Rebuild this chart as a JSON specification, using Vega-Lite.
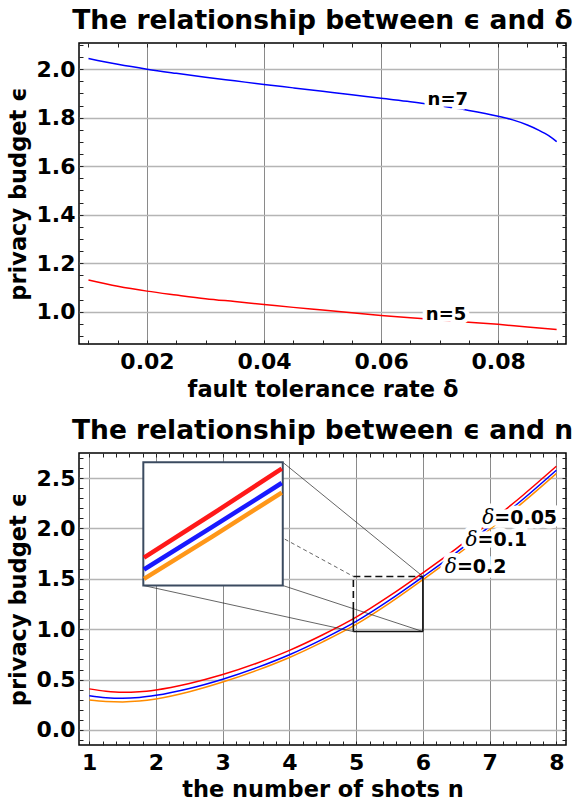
{
  "$schema": "https://vega.github.io/schema/vega-lite/v6.json",
  "padding": {"left": 6, "top": 7, "right": 2, "bottom": 2},
  "datasets": {
    "eps_delta": [
      {"delta": 0.010, "eps": 2.044, "n": "n=7"},
      {"delta": 0.015, "eps": 2.020, "n": "n=7"},
      {"delta": 0.020, "eps": 2.000, "n": "n=7"},
      {"delta": 0.025, "eps": 1.983, "n": "n=7"},
      {"delta": 0.030, "eps": 1.967, "n": "n=7"},
      {"delta": 0.035, "eps": 1.952, "n": "n=7"},
      {"delta": 0.040, "eps": 1.937, "n": "n=7"},
      {"delta": 0.045, "eps": 1.923, "n": "n=7"},
      {"delta": 0.050, "eps": 1.909, "n": "n=7"},
      {"delta": 0.055, "eps": 1.895, "n": "n=7"},
      {"delta": 0.060, "eps": 1.880, "n": "n=7"},
      {"delta": 0.065, "eps": 1.866, "n": "n=7"},
      {"delta": 0.070, "eps": 1.849, "n": "n=7"},
      {"delta": 0.075, "eps": 1.830, "n": "n=7"},
      {"delta": 0.080, "eps": 1.806, "n": "n=7"},
      {"delta": 0.0825, "eps": 1.791, "n": "n=7"},
      {"delta": 0.085, "eps": 1.770, "n": "n=7"},
      {"delta": 0.087, "eps": 1.748, "n": "n=7"},
      {"delta": 0.088, "eps": 1.735, "n": "n=7"},
      {"delta": 0.089, "eps": 1.720, "n": "n=7"},
      {"delta": 0.090, "eps": 1.701, "n": "n=7"},
      {"delta": 0.010, "eps": 1.131, "n": "n=5"},
      {"delta": 0.015, "eps": 1.105, "n": "n=5"},
      {"delta": 0.020, "eps": 1.085, "n": "n=5"},
      {"delta": 0.025, "eps": 1.069, "n": "n=5"},
      {"delta": 0.030, "eps": 1.054, "n": "n=5"},
      {"delta": 0.035, "eps": 1.042, "n": "n=5"},
      {"delta": 0.040, "eps": 1.030, "n": "n=5"},
      {"delta": 0.045, "eps": 1.018, "n": "n=5"},
      {"delta": 0.050, "eps": 1.007, "n": "n=5"},
      {"delta": 0.055, "eps": 0.996, "n": "n=5"},
      {"delta": 0.060, "eps": 0.985, "n": "n=5"},
      {"delta": 0.065, "eps": 0.975, "n": "n=5"},
      {"delta": 0.070, "eps": 0.966, "n": "n=5"},
      {"delta": 0.075, "eps": 0.957, "n": "n=5"},
      {"delta": 0.080, "eps": 0.948, "n": "n=5"},
      {"delta": 0.085, "eps": 0.937, "n": "n=5"},
      {"delta": 0.090, "eps": 0.927, "n": "n=5"}
    ],
    "top_labels": [
      {"delta": 0.0714, "eps": 1.874, "label": "n=7"},
      {"delta": 0.0711, "eps": 0.987, "label": "n=5"}
    ],
    "eps_n": [
      {"shots": 1.0, "eps": 0.408, "d": "δ=0.05"},
      {"shots": 1.25, "eps": 0.385, "d": "δ=0.05"},
      {"shots": 1.5, "eps": 0.375, "d": "δ=0.05"},
      {"shots": 1.75, "eps": 0.380, "d": "δ=0.05"},
      {"shots": 2.0, "eps": 0.398, "d": "δ=0.05"},
      {"shots": 2.5, "eps": 0.462, "d": "δ=0.05"},
      {"shots": 3.0, "eps": 0.550, "d": "δ=0.05"},
      {"shots": 3.5, "eps": 0.660, "d": "δ=0.05"},
      {"shots": 4.0, "eps": 0.790, "d": "δ=0.05"},
      {"shots": 4.5, "eps": 0.945, "d": "δ=0.05"},
      {"shots": 5.0, "eps": 1.120, "d": "δ=0.05"},
      {"shots": 5.5, "eps": 1.330, "d": "δ=0.05"},
      {"shots": 6.0, "eps": 1.560, "d": "δ=0.05"},
      {"shots": 6.5, "eps": 1.800, "d": "δ=0.05"},
      {"shots": 7.0, "eps": 2.060, "d": "δ=0.05"},
      {"shots": 7.5, "eps": 2.330, "d": "δ=0.05"},
      {"shots": 8.0, "eps": 2.617, "d": "δ=0.05"},
      {"shots": 1.0, "eps": 0.340, "d": "δ=0.1"},
      {"shots": 1.25, "eps": 0.321, "d": "δ=0.1"},
      {"shots": 1.5, "eps": 0.315, "d": "δ=0.1"},
      {"shots": 1.75, "eps": 0.323, "d": "δ=0.1"},
      {"shots": 2.0, "eps": 0.344, "d": "δ=0.1"},
      {"shots": 2.5, "eps": 0.412, "d": "δ=0.1"},
      {"shots": 3.0, "eps": 0.504, "d": "δ=0.1"},
      {"shots": 3.5, "eps": 0.616, "d": "δ=0.1"},
      {"shots": 4.0, "eps": 0.747, "d": "δ=0.1"},
      {"shots": 4.5, "eps": 0.902, "d": "δ=0.1"},
      {"shots": 5.0, "eps": 1.077, "d": "δ=0.1"},
      {"shots": 5.5, "eps": 1.288, "d": "δ=0.1"},
      {"shots": 6.0, "eps": 1.520, "d": "δ=0.1"},
      {"shots": 6.5, "eps": 1.760, "d": "δ=0.1"},
      {"shots": 7.0, "eps": 2.020, "d": "δ=0.1"},
      {"shots": 7.5, "eps": 2.290, "d": "δ=0.1"},
      {"shots": 8.0, "eps": 2.578, "d": "δ=0.1"},
      {"shots": 1.0, "eps": 0.298, "d": "δ=0.2"},
      {"shots": 1.25, "eps": 0.283, "d": "δ=0.2"},
      {"shots": 1.5, "eps": 0.279, "d": "δ=0.2"},
      {"shots": 1.75, "eps": 0.287, "d": "δ=0.2"},
      {"shots": 2.0, "eps": 0.308, "d": "δ=0.2"},
      {"shots": 2.5, "eps": 0.380, "d": "δ=0.2"},
      {"shots": 3.0, "eps": 0.476, "d": "δ=0.2"},
      {"shots": 3.5, "eps": 0.589, "d": "δ=0.2"},
      {"shots": 4.0, "eps": 0.720, "d": "δ=0.2"},
      {"shots": 4.5, "eps": 0.875, "d": "δ=0.2"},
      {"shots": 5.0, "eps": 1.048, "d": "δ=0.2"},
      {"shots": 5.5, "eps": 1.259, "d": "δ=0.2"},
      {"shots": 6.0, "eps": 1.492, "d": "δ=0.2"},
      {"shots": 6.5, "eps": 1.732, "d": "δ=0.2"},
      {"shots": 7.0, "eps": 1.990, "d": "δ=0.2"},
      {"shots": 7.5, "eps": 2.259, "d": "δ=0.2"},
      {"shots": 8.0, "eps": 2.545, "d": "δ=0.2"}
    ],
    "inset_lines": [
      {"shots": 1.82, "eps": 1.710, "d": "δ=0.05"},
      {"shots": 2.85, "eps": 2.146, "d": "δ=0.05"},
      {"shots": 3.885, "eps": 2.594, "d": "δ=0.05"},
      {"shots": 1.82, "eps": 1.593, "d": "δ=0.1"},
      {"shots": 2.85, "eps": 2.018, "d": "δ=0.1"},
      {"shots": 3.885, "eps": 2.451, "d": "δ=0.1"},
      {"shots": 1.82, "eps": 1.500, "d": "δ=0.2"},
      {"shots": 2.85, "eps": 1.922, "d": "δ=0.2"},
      {"shots": 3.885, "eps": 2.356, "d": "δ=0.2"}
    ],
    "inset_box": [{"n1": 1.81, "n2": 3.90, "e1": 1.434, "e2": 2.657}],
    "connectors": [
      {"n1": 1.81, "e1": 2.657, "n2": 4.958, "e2": 1.524, "style": "dashed"},
      {"n1": 3.90, "e1": 2.657, "n2": 6.0, "e2": 1.524, "style": "solid"},
      {"n1": 1.81, "e1": 1.434, "n2": 4.958, "e2": 0.977, "style": "solid"},
      {"n1": 3.90, "e1": 1.434, "n2": 6.0, "e2": 0.977, "style": "solid"}
    ],
    "zoom_edges": [
      {"n1": 4.958, "e1": 0.977, "n2": 6.0, "e2": 0.977, "style": "solid"},
      {"n1": 6.0, "e1": 0.977, "n2": 6.0, "e2": 1.524, "style": "solid"},
      {"n1": 4.958, "e1": 0.977, "n2": 4.958, "e2": 1.2, "style": "solid"},
      {"n1": 4.958, "e1": 1.2, "n2": 4.958, "e2": 1.524, "style": "dashed"},
      {"n1": 4.958, "e1": 1.524, "n2": 6.0, "e2": 1.524, "style": "dashed"}
    ],
    "bottom_labels": [
      {"shots": 7.07, "eps": 2.107, "sym": "δ", "val": "=0.05"},
      {"shots": 6.82, "eps": 1.882, "sym": "δ", "val": "=0.1"},
      {"shots": 6.51, "eps": 1.616, "sym": "δ", "val": "=0.2"}
    ]
  },
  "vconcat": [
    {
      "width": 487,
      "height": 301,
      "title": {"text": "The relationship between ϵ and δ", "anchor": "middle", "frame": "group", "offset": 8},
      "resolve": {"axis": {"x": "independent", "y": "independent"}},
      "layer": [
        {
          "data": {"name": "eps_delta"},
          "mark": {"type": "line", "strokeWidth": 1.5, "interpolate": "monotone"},
          "encoding": {
            "x": {"field": "delta", "type": "quantitative", "scale": {"domain": [0.00838, 0.0916], "nice": false, "zero": false},
              "axis": {"orient": "bottom", "values": [0.02, 0.04, 0.06, 0.08], "format": ".2f", "grid": true, "gridColor": "#8a8a8a", "gridWidth": 1, "labelPadding": 7, "title": "fault tolerance rate δ", "titlePadding": 6}},
            "y": {"field": "eps", "type": "quantitative", "scale": {"domain": [0.867, 2.108], "nice": false, "zero": false},
              "axis": {"orient": "left", "values": [1.0, 1.2, 1.4, 1.6, 1.8, 2.0], "format": ".1f", "grid": true, "gridColor": "#b5b5b5", "gridWidth": 1.5, "labelPadding": 4, "title": "privacy budget ϵ", "titlePadding": 6}},
            "color": {"field": "n", "type": "nominal", "legend": null,
              "scale": {"domain": ["n=7", "n=5", "δ=0.05", "δ=0.1", "δ=0.2"], "range": ["#0000ff", "#ff0000", "#ff0000", "#0000ff", "#ff8c00"]}}
          }
        },
        {
          "data": {"values": [{"a": 0.05, "b": 1.5}]},
          "mark": {"type": "point", "opacity": 0},
          "encoding": {
            "x": {"field": "a", "type": "quantitative", "scale": {"domain": [0.00838, 0.0916], "nice": false, "zero": false},
              "axis": {"orient": "bottom", "values": [0.01, 0.015, 0.02, 0.025, 0.03, 0.035, 0.04, 0.045, 0.05, 0.055, 0.06, 0.065, 0.07, 0.075, 0.08, 0.085, 0.09], "ticks": true, "tickSize": -4, "tickColor": "#222", "labels": false, "title": null}},
            "y": {"field": "b", "type": "quantitative", "scale": {"domain": [0.867, 2.108], "nice": false, "zero": false},
              "axis": {"orient": "left", "values": [0.9, 0.95, 1.0, 1.05, 1.1, 1.15, 1.2, 1.25, 1.3, 1.35, 1.4, 1.45, 1.5, 1.55, 1.6, 1.65, 1.7, 1.75, 1.8, 1.85, 1.9, 1.95, 2.0, 2.05, 2.1], "ticks": true, "tickSize": -4, "tickColor": "#222", "labels": false, "title": null}}
          }
        },
        {
          "data": {"values": [{"a": 0.05, "b": 1.5}]},
          "mark": {"type": "point", "opacity": 0},
          "encoding": {
            "x": {"field": "a", "type": "quantitative", "scale": {"domain": [0.00838, 0.0916], "nice": false, "zero": false},
              "axis": {"orient": "top", "values": [0.01, 0.015, 0.02, 0.025, 0.03, 0.035, 0.04, 0.045, 0.05, 0.055, 0.06, 0.065, 0.07, 0.075, 0.08, 0.085, 0.09], "ticks": true, "tickSize": -4, "tickColor": "#222", "labels": false, "title": null}},
            "y": {"field": "b", "type": "quantitative", "scale": {"domain": [0.867, 2.108], "nice": false, "zero": false},
              "axis": {"orient": "right", "values": [0.9, 0.95, 1.0, 1.05, 1.1, 1.15, 1.2, 1.25, 1.3, 1.35, 1.4, 1.45, 1.5, 1.55, 1.6, 1.65, 1.7, 1.75, 1.8, 1.85, 1.9, 1.95, 2.0, 2.05, 2.1], "ticks": true, "tickSize": -4, "tickColor": "#222", "labels": false, "title": null}}
          }
        },
        {
          "data": {"name": "top_labels"},
          "mark": {"type": "text", "font": "DejaVu Sans", "fontWeight": "bold", "fontSize": 18, "align": "center", "baseline": "middle", "stroke": "white", "strokeWidth": 9, "fill": "white"},
          "encoding": {
            "x": {"field": "delta", "type": "quantitative", "axis": null},
            "y": {"field": "eps", "type": "quantitative", "axis": null},
            "text": {"field": "label"}
          }
        },
        {
          "data": {"name": "top_labels"},
          "mark": {"type": "text", "font": "DejaVu Sans", "fontWeight": "bold", "fontSize": 18, "align": "center", "baseline": "middle", "fill": "black"},
          "encoding": {
            "x": {"field": "delta", "type": "quantitative", "axis": null},
            "y": {"field": "eps", "type": "quantitative", "axis": null},
            "text": {"field": "label"}
          }
        }
      ]
    },
    {
      "width": 487,
      "height": 292,
      "title": {"text": "The relationship between ϵ and n", "anchor": "middle", "frame": "group", "offset": 8},
      "resolve": {"axis": {"x": "independent", "y": "independent"}},
      "layer": [
        {
          "data": {"name": "eps_n"},
          "mark": {"type": "line", "strokeWidth": 1.5, "interpolate": "monotone"},
          "encoding": {
            "x": {"field": "shots", "type": "quantitative", "scale": {"domain": [0.846, 8.145], "nice": false, "zero": false},
              "axis": {"orient": "bottom", "values": [1, 2, 3, 4, 5, 6, 7, 8], "format": "d", "grid": true, "gridColor": "#8a8a8a", "gridWidth": 1, "labelPadding": 7, "title": "the number of shots n", "titlePadding": 5}},
            "y": {"field": "eps", "type": "quantitative", "scale": {"domain": [-0.149, 2.749], "nice": false, "zero": false},
              "axis": {"orient": "left", "values": [0, 0.5, 1.0, 1.5, 2.0, 2.5], "format": ".1f", "grid": true, "gridColor": "#b5b5b5", "gridWidth": 1.5, "labelPadding": 4, "title": "privacy budget ϵ", "titlePadding": 6}},
            "color": {"field": "d", "type": "nominal", "legend": null,
              "scale": {"domain": ["n=7", "n=5", "δ=0.05", "δ=0.1", "δ=0.2"], "range": ["#0000ff", "#ff0000", "#ff0000", "#0000ff", "#ff8c00"]}}
          }
        },
        {
          "data": {"values": [{"a": 4, "b": 1}]},
          "mark": {"type": "point", "opacity": 0},
          "encoding": {
            "x": {"field": "a", "type": "quantitative", "scale": {"domain": [0.846, 8.145], "nice": false, "zero": false},
              "axis": {"orient": "bottom", "values": [1, 1.2, 1.4, 1.6, 1.8, 2, 2.2, 2.4, 2.6, 2.8, 3, 3.2, 3.4, 3.6, 3.8, 4, 4.2, 4.4, 4.6, 4.8, 5, 5.2, 5.4, 5.6, 5.8, 6, 6.2, 6.4, 6.6, 6.8, 7, 7.2, 7.4, 7.6, 7.8, 8], "ticks": true, "tickSize": -4, "tickColor": "#222", "labels": false, "title": null}},
            "y": {"field": "b", "type": "quantitative", "scale": {"domain": [-0.149, 2.749], "nice": false, "zero": false},
              "axis": {"orient": "left", "values": [-0.1, 0, 0.1, 0.2, 0.3, 0.4, 0.5, 0.6, 0.7, 0.8, 0.9, 1.0, 1.1, 1.2, 1.3, 1.4, 1.5, 1.6, 1.7, 1.8, 1.9, 2.0, 2.1, 2.2, 2.3, 2.4, 2.5, 2.6, 2.7], "ticks": true, "tickSize": -4, "tickColor": "#222", "labels": false, "title": null}}
          }
        },
        {
          "data": {"values": [{"a": 4, "b": 1}]},
          "mark": {"type": "point", "opacity": 0},
          "encoding": {
            "x": {"field": "a", "type": "quantitative", "scale": {"domain": [0.846, 8.145], "nice": false, "zero": false},
              "axis": {"orient": "top", "values": [1, 1.2, 1.4, 1.6, 1.8, 2, 2.2, 2.4, 2.6, 2.8, 3, 3.2, 3.4, 3.6, 3.8, 4, 4.2, 4.4, 4.6, 4.8, 5, 5.2, 5.4, 5.6, 5.8, 6, 6.2, 6.4, 6.6, 6.8, 7, 7.2, 7.4, 7.6, 7.8, 8], "ticks": true, "tickSize": -4, "tickColor": "#222", "labels": false, "title": null}},
            "y": {"field": "b", "type": "quantitative", "scale": {"domain": [-0.149, 2.749], "nice": false, "zero": false},
              "axis": {"orient": "right", "values": [-0.1, 0, 0.1, 0.2, 0.3, 0.4, 0.5, 0.6, 0.7, 0.8, 0.9, 1.0, 1.1, 1.2, 1.3, 1.4, 1.5, 1.6, 1.7, 1.8, 1.9, 2.0, 2.1, 2.2, 2.3, 2.4, 2.5, 2.6, 2.7], "ticks": true, "tickSize": -4, "tickColor": "#222", "labels": false, "title": null}}
          }
        },
        {
          "data": {"name": "connectors"},
          "transform": [{"filter": "datum.style == 'solid'"}],
          "mark": {"type": "rule", "color": "#222", "strokeWidth": 0.7},
          "encoding": {
            "x": {"field": "n1", "type": "quantitative", "axis": null},
            "y": {"field": "e1", "type": "quantitative", "axis": null},
            "x2": {"field": "n2"},
            "y2": {"field": "e2"}
          }
        },
        {
          "data": {"name": "connectors"},
          "transform": [{"filter": "datum.style == 'dashed'"}],
          "mark": {"type": "rule", "color": "#222", "strokeWidth": 0.7, "strokeDash": [4, 3]},
          "encoding": {
            "x": {"field": "n1", "type": "quantitative", "axis": null},
            "y": {"field": "e1", "type": "quantitative", "axis": null},
            "x2": {"field": "n2"},
            "y2": {"field": "e2"}
          }
        },
        {
          "data": {"name": "zoom_edges"},
          "transform": [{"filter": "datum.style == 'solid'"}],
          "mark": {"type": "rule", "color": "#111", "strokeWidth": 1.6},
          "encoding": {
            "x": {"field": "n1", "type": "quantitative", "axis": null},
            "y": {"field": "e1", "type": "quantitative", "axis": null},
            "x2": {"field": "n2"},
            "y2": {"field": "e2"}
          }
        },
        {
          "data": {"name": "zoom_edges"},
          "transform": [{"filter": "datum.style == 'dashed'"}],
          "mark": {"type": "rule", "color": "#111", "strokeWidth": 1.6, "strokeDash": [7, 4]},
          "encoding": {
            "x": {"field": "n1", "type": "quantitative", "axis": null},
            "y": {"field": "e1", "type": "quantitative", "axis": null},
            "x2": {"field": "n2"},
            "y2": {"field": "e2"}
          }
        },
        {
          "data": {"name": "inset_box"},
          "mark": {"type": "rect", "fill": "white", "stroke": "#3b4b60", "strokeWidth": 2},
          "encoding": {
            "x": {"field": "n1", "type": "quantitative", "axis": null},
            "x2": {"field": "n2"},
            "y": {"field": "e1", "type": "quantitative", "axis": null},
            "y2": {"field": "e2"}
          }
        },
        {
          "data": {"name": "inset_lines"},
          "mark": {"type": "line", "strokeWidth": 4.5, "opacity": 0.9},
          "encoding": {
            "x": {"field": "shots", "type": "quantitative", "axis": null},
            "y": {"field": "eps", "type": "quantitative", "axis": null},
            "color": {"field": "d", "type": "nominal", "legend": null,
              "scale": {"domain": ["n=7", "n=5", "δ=0.05", "δ=0.1", "δ=0.2"], "range": ["#0000ff", "#ff0000", "#ff0000", "#0000ff", "#ff8c00"]}}
          }
        },
        {
          "data": {"name": "bottom_labels"},
          "mark": {"type": "text", "font": "DejaVu Serif", "fontStyle": "italic", "fontSize": 20, "align": "right", "baseline": "middle", "stroke": "white", "strokeWidth": 9, "fill": "white"},
          "encoding": {
            "x": {"field": "shots", "type": "quantitative", "axis": null},
            "y": {"field": "eps", "type": "quantitative", "axis": null},
            "text": {"field": "sym"}
          }
        },
        {
          "data": {"name": "bottom_labels"},
          "mark": {"type": "text", "font": "DejaVu Sans", "fontWeight": "bold", "fontSize": 19, "align": "left", "baseline": "middle", "stroke": "white", "strokeWidth": 9, "fill": "white"},
          "encoding": {
            "x": {"field": "shots", "type": "quantitative", "axis": null},
            "y": {"field": "eps", "type": "quantitative", "axis": null},
            "text": {"field": "val"}
          }
        },
        {
          "data": {"name": "bottom_labels"},
          "mark": {"type": "text", "font": "DejaVu Serif", "fontStyle": "italic", "fontSize": 20, "align": "right", "baseline": "middle", "fill": "black"},
          "encoding": {
            "x": {"field": "shots", "type": "quantitative", "axis": null},
            "y": {"field": "eps", "type": "quantitative", "axis": null},
            "text": {"field": "sym"}
          }
        },
        {
          "data": {"name": "bottom_labels"},
          "mark": {"type": "text", "font": "DejaVu Sans", "fontWeight": "bold", "fontSize": 19, "align": "left", "baseline": "middle", "fill": "black"},
          "encoding": {
            "x": {"field": "shots", "type": "quantitative", "axis": null},
            "y": {"field": "eps", "type": "quantitative", "axis": null},
            "text": {"field": "val"}
          }
        }
      ]
    }
  ],
  "config": {
    "view": {"stroke": "black", "strokeWidth": 1.5},
    "font": "DejaVu Sans",
    "axis": {"labelFont": "DejaVu Sans", "labelFontSize": 22, "labelFontWeight": "bold", "labelColor": "black", "titleFont": "DejaVu Sans", "titleFontSize": 22.5, "titleFontWeight": "bold", "titleColor": "black", "domain": false, "ticks": false, "grid": false},
    "title": {"font": "DejaVu Sans", "fontSize": 26.5, "fontWeight": "bold", "color": "black"},
    "concat": {"spacing": 15}
  }
}
